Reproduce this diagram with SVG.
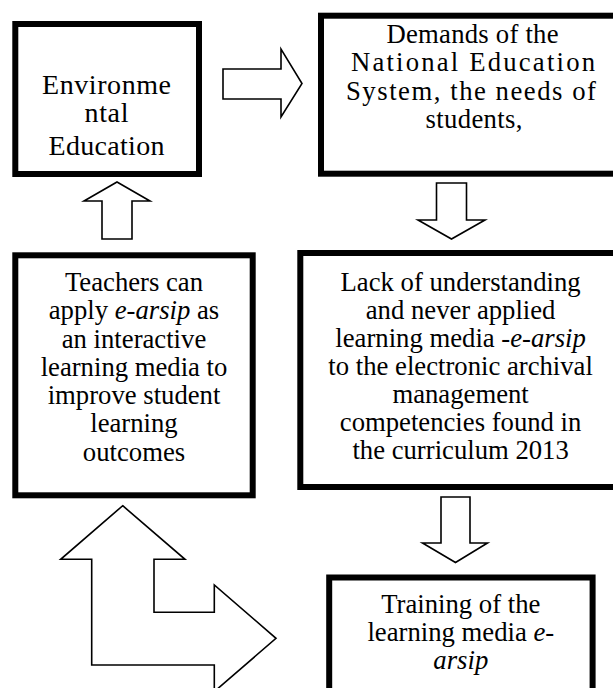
<svg xmlns="http://www.w3.org/2000/svg" width="613" height="688" viewBox="0 0 613 688">
<style>
.box{fill:#fff;stroke:#000;stroke-width:6}
.arr{fill:#fff;stroke:#000;stroke-width:1.6;stroke-linejoin:miter}
.t{font-family:"Liberation Serif","Times New Roman",serif;font-size:26.7px;fill:#000;text-anchor:middle}
.big{font-size:28px}
.i{font-style:italic}
</style>
<rect width="613" height="688" fill="#fff"/>
<g id="connectors">
<polygon class="arr" points="223,69 281,69 281,49 302,83.5 281,117 281,99 223,99"/>
<polygon class="arr" points="117,182 150,201 132,201 132,239 102,239 102,201 84,201"/>
<polygon class="arr" points="436.5,183 466.5,183 466.5,220 485,220 451.5,239 418,220 436.5,220"/>
<polygon class="arr" points="441,497 470,497 470,543 487.5,543 455.5,562.5 422.5,543 441,543"/>
<polygon class="arr" points="122.7,505.7 185,559.3 154,559.3 154,612.3 214.3,612.3 214.3,585 276,638.3 214.3,691.6 214.3,665 91.7,665 91.7,559.3 60.7,559.3"/>
</g>
<g id="environmental">
<rect class="box" x="15.3" y="24" width="183.7" height="150"/>
<text class="t big" x="106.5" y="93.5" textLength="129" lengthAdjust="spacing">Environme</text>
<text class="t big" x="106.5" y="122" textLength="44" lengthAdjust="spacing">ntal</text>
<text class="t big" x="106.5" y="155" textLength="116" lengthAdjust="spacing">Education</text>
</g>
<g id="demands">
<rect class="box" x="321" y="15.7" width="310" height="158"/>
<text class="t" x="472.5" y="42.7" textLength="172" lengthAdjust="spacing">Demands of the</text>
<text class="t" x="473" y="71.2" textLength="244" lengthAdjust="spacing">National Education</text>
<text class="t" x="471" y="99.7" textLength="250" lengthAdjust="spacing">System, the needs of</text>
<text class="t" x="474" y="128.2" textLength="97" lengthAdjust="spacing">students,</text>
</g>
<g id="teachers">
<rect class="box" x="15.3" y="255.3" width="237.4" height="240"/>
<text class="t" x="134" y="291">Teachers can</text>
<text class="t" x="134" y="319.3">apply <tspan class="i">e-arsip</tspan> as</text>
<text class="t" x="134" y="347.5">an interactive</text>
<text class="t" x="134" y="375.8">learning media to</text>
<text class="t" x="134" y="404">improve student</text>
<text class="t" x="134" y="432.3">learning</text>
<text class="t" x="134" y="460.6">outcomes</text>
</g>
<g id="lack">
<rect class="box" x="300.3" y="253" width="330" height="234"/>
<text class="t" x="460.6" y="291">Lack of understanding</text>
<text class="t" x="460.6" y="319">and never applied</text>
<text class="t" x="460.6" y="347">learning media <tspan class="i">-e-arsip</tspan></text>
<text class="t" x="460.6" y="375">to the electronic archival</text>
<text class="t" x="460.6" y="403">management</text>
<text class="t" x="460.6" y="430.5">competencies found in</text>
<text class="t" x="460.6" y="458.5">the curriculum 2013</text>
</g>
<g id="training">
<rect class="box" x="329.2" y="577.5" width="263.4" height="130"/>
<text class="t" x="460.8" y="612.7">Training of the</text>
<text class="t" x="460.8" y="640.7">learning media <tspan class="i">e-</tspan></text>
<text class="t i" x="460.8" y="668.5">arsip</text>
</g>
</svg>
